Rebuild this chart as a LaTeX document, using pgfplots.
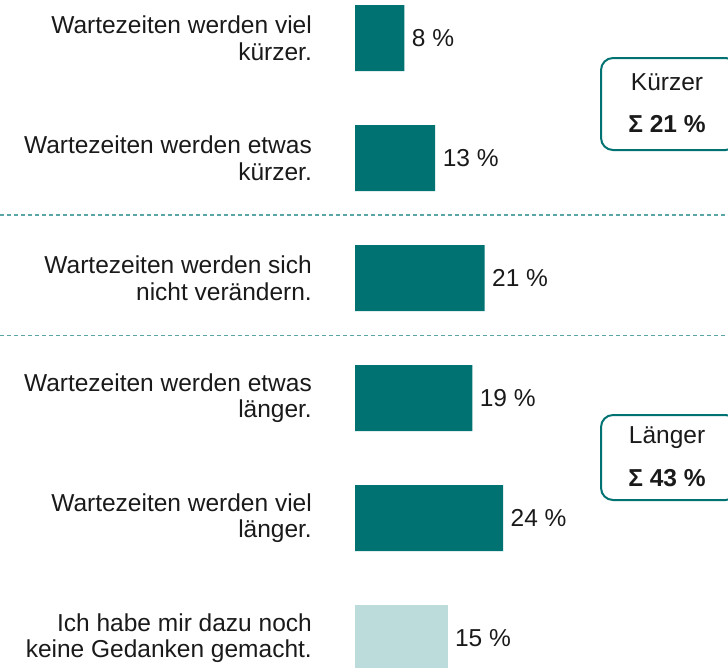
\documentclass[border=0pt]{standalone}
\usepackage{pgfplots}
\pgfplotsset{compat=1.18}
\usepackage{fontspec}
\setmainfont{Liberation Sans}
\definecolor{tealdark}{HTML}{007272}
\definecolor{teallight}{HTML}{BCDCDC}
\definecolor{dashcol}{HTML}{5AA5A5}
\definecolor{txt}{HTML}{1A1A1A}

\begin{document}
\begin{tikzpicture}[x=1pt,y=1pt,every node/.style={font=\fontsize{24.5}{26.5}\selectfont, text=txt}]
\useasboundingbox (0,0) rectangle (728,667);
\begin{axis}[
    at={(0,0)}, anchor=south west,
    scale only axis, width=728pt, height=667pt,
    xmin=-57.54, xmax=60.45,
    ymin=-0.3167, ymax=5.2417, y dir=reverse,
    hide axis, clip=false,
    xbar, bar width=66pt, bar shift=0pt,
    nodes near coords={\pgfplotspointmeta~\%},
    every node near coord/.append style={anchor=west, xshift=4pt, font=\fontsize{24.5}{26.5}\selectfont, text=txt},
    point meta=explicit symbolic,
    ]
% percent values
\addplot[fill=tealdark, draw=none] coordinates {(8,0) [8] (13,1) [13] (21,2) [21] (19,3) [19] (24,4) [24]};
\addplot[fill=teallight, draw=none] coordinates {(15,5) [15]};

% category labels
\node[anchor=east, align=right, inner sep=0] at (axis cs:-6.97,0) {Wartezeiten werden viel\\kürzer.};
\node[anchor=east, align=right, inner sep=0] at (axis cs:-6.97,1) {Wartezeiten werden etwas\\kürzer.};
\node[anchor=east, align=right, inner sep=0] at (axis cs:-6.97,2) {Wartezeiten werden sich\\nicht verändern.};
\node[anchor=east, align=right, inner sep=0] at (axis cs:-6.97,3) {Wartezeiten werden etwas\\länger.};
\node[anchor=east, align=right, inner sep=0] at (axis cs:-6.97,4) {Wartezeiten werden viel\\länger.};
\node[anchor=east, align=right, inner sep=0] at (axis cs:-6.97,5) {Ich habe mir dazu noch\\keine Gedanken gemacht.};

% separators
\draw[dashcol, line width=1.4pt, dash pattern=on 4pt off 3pt] (axis cs:-57.54,1.475) -- (axis cs:60.45,1.475);
\draw[dashcol, line width=1.4pt, dash pattern=on 4pt off 3pt] (axis cs:-57.54,2.48) -- (axis cs:60.45,2.48);

% summary boxes
\draw[tealdark, line width=2pt, rounded corners=12pt] (axis cs:39.87,0.1667) rectangle (axis cs:62,0.9333);
\node at (axis cs:50.57,0.3667) {Kürzer};
\node at (axis cs:50.57,0.7167) {\textbf{Σ 21 \%}};
\draw[tealdark, line width=2pt, rounded corners=12pt] (axis cs:39.87,3.1417) rectangle (axis cs:62,3.85);
\node at (axis cs:50.57,3.333) {Länger};
\node at (axis cs:50.57,3.667) {\textbf{Σ 43 \%}};
\end{axis}
\end{tikzpicture}
\end{document}
